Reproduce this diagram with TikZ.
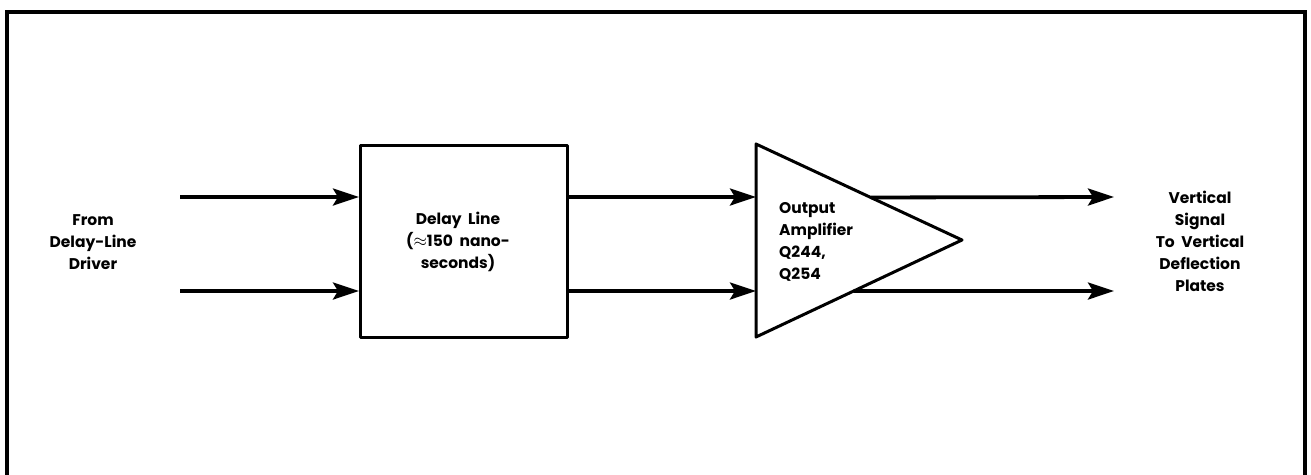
\documentclass[tikz,border=0pt]{standalone}
\usepackage{fontspec}
\setmainfont{Poppins}
\usetikzlibrary{calc,arrows.meta}

\tikzset{
    sigline/.style={line width=3.8pt,-{Stealth[length=26pt,width=17pt,inset=5pt]}},
    blockline/.style={line width=3pt,line join=round},
    lbl/.style={align=center,font=\fontsize{15.5}{22}\selectfont\bfseries,inner sep=0pt},
}

\begin{document}
\begin{tikzpicture}[x=1pt,y=-1pt]

\useasboundingbox (0,0) rectangle (1311,474);

% outer frame (bottom edge runs off the page)
\draw[line width=3.2pt] (7,12) rectangle (1305,480);

% delay line block
\node[draw,blockline,minimum width=207pt,minimum height=192pt,
      inner sep=0pt] (delay) at (464,241) {};
\node[lbl] (delaytxt) at (458,242) {Delay\ \ Line\\({\fontsize{18}{22}\selectfont\(\approx\)}150\ \ nano-\\seconds)};

% amplifier triangle
\coordinate (ampTop) at (756,144);
\coordinate (ampBot) at (756,337);
\coordinate (ampTip) at (962,240);
\draw[blockline] (ampTop) -- (ampTip) -- (ampBot) -- cycle;
\node[lbl,align=left,anchor=west] (amptxt) at (779,242) {Output\\Amplifier\\Q244,\\Q254};

% input / output points
\coordinate (inA) at (180,197);
\coordinate (inB) at (180,291);
\coordinate (outA) at (1114,197);
\coordinate (outB) at (1114,291);

\node[lbl] (from) at (93,242) {From\\Delay-Line\\Driver};
\node[lbl] (dest) at (1200,241) {Vertical\\Signal\\To\ \ Vertical\\Deflection\\Plates};

% signal paths
\draw[sigline] (inA) -- (inA -| delay.west);
\draw[sigline] (inB) -- (inB -| delay.west);
\draw[sigline] (inA -| delay.east) -- (inA -| ampTop);
\draw[sigline] (inB -| delay.east) -- (inB -| ampTop);
\draw[sigline] ($(ampTop)!0.557!(ampTip)$) -- (outA);
\draw[sigline] ($(ampBot)!0.474!(ampTip)$) -- (outB);

\end{tikzpicture}
\end{document}
